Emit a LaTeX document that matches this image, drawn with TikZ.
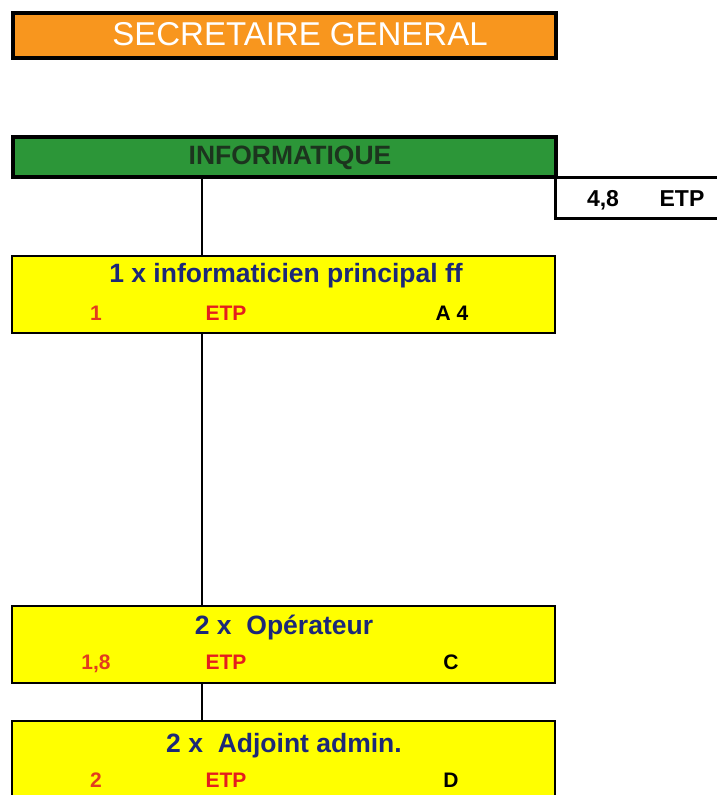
\documentclass[tikz,border=0pt]{standalone}
\usepackage{fontspec}
\setmainfont{Liberation Sans}
\definecolor{sgorange}{RGB}{248,150,30}
\definecolor{infogreen}{RGB}{44,150,56}
\definecolor{infotext}{RGB}{28,52,30}
\definecolor{boxyellow}{RGB}{255,255,0}
\definecolor{navy}{RGB}{28,40,120}
\definecolor{etpred}{RGB}{228,30,30}
\definecolor{numred}{RGB}{226,60,30}
\begin{document}
\begin{tikzpicture}[x=1pt,y=-1pt,
  headbox/.style={draw=black,line width=3.5pt,minimum width=543pt,inner sep=0pt,anchor=north west},
  ybox/.style={draw=black,line width=2pt,fill=boxyellow,minimum width=543pt,minimum height=77pt,inner sep=0pt,anchor=north west},
  ytitle/.style={text=navy,font=\fontsize{26.5}{28}\selectfont\bfseries,inner sep=0pt,anchor=base},
  num/.style={text=numred,font=\fontsize{21}{23}\selectfont\bfseries,inner sep=0pt,anchor=base},
  etp/.style={text=etpred,font=\fontsize{21}{23}\selectfont\bfseries,inner sep=0pt,anchor=base},
  grade/.style={text=black,font=\fontsize{21}{23}\selectfont\bfseries,inner sep=0pt,anchor=base},
  conn/.style={draw=black,line width=1.8pt}]
\useasboundingbox[fill=white] (0,0) rectangle (717,795);
% Secretaire general
\node[headbox,fill=sgorange,minimum height=45pt] (sg) at (11,11) {};
\node[text=white,font=\fontsize{33}{35}\selectfont,inner sep=0pt,anchor=base] (sgt) at (300,45) {SECRETAIRE GENERAL};
% Informatique
\node[headbox,fill=infogreen,minimum height=40pt] (info) at (11,135) {};
\node[text=infotext,font=\fontsize{26.5}{28}\selectfont\bfseries,inner sep=0pt,anchor=base] (infot) at (290,164) {INFORMATIQUE};
% ETP box
\node[draw=black,line width=3pt,fill=white,minimum width=180pt,minimum height=41pt,inner sep=0pt,anchor=north west] (etpbox) at (554,176) {};
\node[font=\fontsize{23}{25}\selectfont\bfseries,inner sep=0pt,anchor=base] (etpn) at (603,206) {4,8};
\node[font=\fontsize{23}{25}\selectfont\bfseries,inner sep=0pt,anchor=base] (etpt) at (682,206) {ETP};
% yellow boxes
\node[ybox] (y1) at (11,255) {};
\node[ybox] (y2) at (11,605) {};
\node[ybox] (y3) at (11,720) {};
\node[ytitle] (y1t) at (286,282) {1 x informaticien principal ff};
\node[num] (y1n) at (96,320) {1};
\node[etp] (y1e) at (226,320) {ETP};
\node[grade] (y1g) at (452,320) {A 4};
\node[ytitle] (y2t) at (284,634) {2 x\ \ Opérateur};
\node[num] (y2n) at (96,669) {1,8};
\node[etp] (y2e) at (226,669) {ETP};
\node[grade] (y2g) at (451,669) {C};
\node[ytitle] (y3t) at (284,752) {2 x\ \ Adjoint admin.};
\node[num] (y3n) at (96,787) {2};
\node[etp] (y3e) at (226,787) {ETP};
\node[grade] (y3g) at (451,787) {D};
% connectors
\coordinate (lx) at (202,0);
\draw[conn] (info.south -| lx) -- (y1.north -| lx);
\draw[conn] (y1.south -| lx) -- (y2.north -| lx);
\draw[conn] (y2.south -| lx) -- (y3.north -| lx);
\end{tikzpicture}
\end{document}
